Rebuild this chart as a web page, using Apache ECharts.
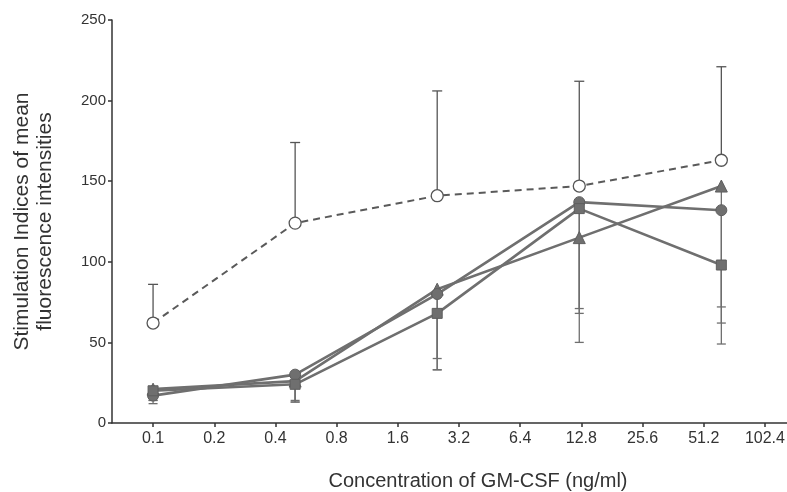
<!DOCTYPE html>
<html><head><meta charset="utf-8">
<script src="https://cdn.jsdelivr.net/npm/echarts@6/dist/echarts.min.js"></script>
<style>html,body{margin:0;padding:0;background:#fff}#c{width:787px;height:492px}</style>
</head><body><div id="c"></div>
<script>
// concentrations of GM-CSF (ng/ml)
const concentrations = [0.1, 0.5, 2.5, 12.5, 62.5];
const tickValues = [0.1, 0.2, 0.4, 0.8, 1.6, 3.2, 6.4, 12.8, 25.6, 51.2, 102.4];
const tickLabels = ['0.1', '0.2', '0.4', '0.8', '1.6', '3.2', '6.4', '12.8', '25.6', '51.2', '102.4'];
const yTicks = [0, 50, 100, 150, 200, 250];

// open circles, dashed (upper error bars)
const openMean  = [62, 124, 141, 147, 163];
const openUpper = [86, 174, 206, 212, 221];
// filled triangles (lower error bars)
const triMean  = [21, 26, 83, 115, 147];
const triLower = [14, 14, 33, 50, 72];
// filled circles
const dotMean  = [17, 30, 80, 137, 132];
const dotLower = [12, 13, 33, 71, 62];
// filled squares
const sqMean  = [20, 24, 68, 133, 98];
const sqLower = [14, 13, 40, 68, 49];

const FONT = 'Liberation Sans, Arial, sans-serif';
const GREY = '#6f6f6f';

function pairs(ys) { return concentrations.map((c, i) => [c, ys[i]]); }
function bars(a, b) { return concentrations.map((c, i) => [c, a[i], b[i]]); }

function errSeries(data, capAtTop, color, capW, z) {
  return {
    type: 'custom', z: z, silent: true,
    renderItem: function (params, api) {
      const x = api.value(0);
      const p1 = api.coord([x, api.value(1)]);
      const p2 = api.coord([x, api.value(2)]);
      const capY = capAtTop ? Math.min(p1[1], p2[1]) : Math.max(p1[1], p2[1]);
      const st = { stroke: color, lineWidth: 1.3 };
      return { type: 'group', children: [
        { type: 'line', shape: { x1: p1[0], y1: p1[1], x2: p2[0], y2: p2[1] }, style: st },
        { type: 'line', shape: { x1: p1[0] - capW / 2, y1: capY, x2: p1[0] + capW / 2, y2: capY }, style: st }
      ]};
    },
    data: data
  };
}

function lineSeries(ys, symbol, size, z) {
  return {
    type: 'line', data: pairs(ys), z: z,
    symbol: symbol, symbolSize: size, showSymbol: true,
    lineStyle: { color: GREY, width: 2.6 },
    itemStyle: { color: GREY, borderColor: '#5e5e5e', borderWidth: 1 }
  };
}

const chart = echarts.init(document.getElementById('c'));
chart.setOption({
  backgroundColor: '#fff',
  animation: false,
  grid: { left: 112, right: 0, top: 20, bottom: 69, containLabel: false, outerBoundsMode: 'none' },
  xAxis: {
    type: 'log', logBase: 2, min: 0.0628, max: 131.5,
    name: 'Concentration of GM-CSF (ng/ml)',
    nameLocation: 'middle', nameGap: 48,
    nameTextStyle: { fontFamily: FONT, fontSize: 20, color: '#333', padding: [0, 0, 0, 57] },
    axisLine: { lineStyle: { color: '#333', width: 1.5 } },
    axisTick: { customValues: tickValues, length: 4, lineStyle: { color: '#333', width: 1.5 } },
    minorTick: { show: false },
    axisLabel: {
      customValues: tickValues, margin: 8,
      fontFamily: FONT, fontSize: 16, color: '#333',
      formatter: function (v) {
        let best = 0;
        tickValues.forEach((t, i) => { if (Math.abs(t - v) < Math.abs(tickValues[best] - v)) best = i; });
        return tickLabels[best];
      }
    },
    splitLine: { show: false }
  },
  yAxis: {
    type: 'value', min: 0, max: 250, interval: 50,
    name: 'Stimulation Indices of mean\nfluorescence intensities',
    nameLocation: 'middle', nameGap: 55,
    nameTextStyle: { fontFamily: FONT, fontSize: 21, color: '#333', lineHeight: 23 },
    axisLine: { show: true, lineStyle: { color: '#333', width: 1.5 } },
    axisTick: { show: true, length: 4, lineStyle: { color: '#333', width: 1.5 } },
    axisLabel: { margin: 6, fontFamily: FONT, fontSize: 15, color: '#333' },
    splitLine: { show: false }
  },
  series: [
    errSeries(bars(openMean, openUpper), true, '#555', 10, 1),
    errSeries(bars(triMean, triLower), false, GREY, 9, 1),
    errSeries(bars(dotMean, dotLower), false, GREY, 9, 1),
    errSeries(bars(sqMean, sqLower), false, GREY, 9, 1),
    {
      type: 'line', data: pairs(openMean), z: 3,
      symbol: 'circle', symbolSize: 12, showSymbol: true,
      lineStyle: { color: '#5a5a5a', width: 2, type: [7, 5] },
      itemStyle: { color: '#fff', borderColor: '#555', borderWidth: 1.3 }
    },
    lineSeries(triMean, 'triangle', 12, 2),
    lineSeries(dotMean, 'circle', 11, 2),
    lineSeries(sqMean, 'rect', 10, 2)
  ]
});
</script>
</body></html>
